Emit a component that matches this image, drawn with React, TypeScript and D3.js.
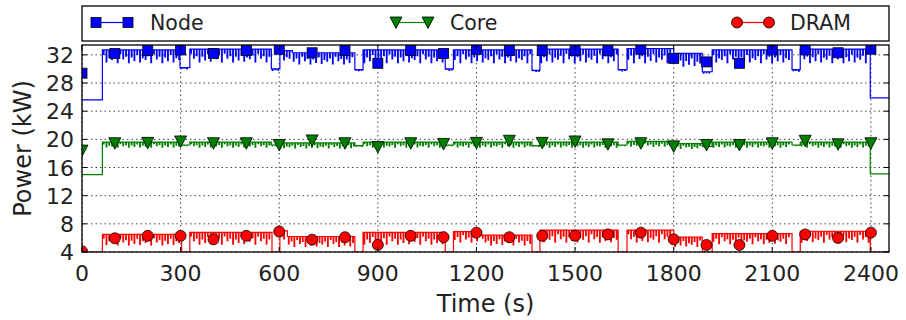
import * as d3 from "d3";

// sample times of the markers (s)
const markerTimes = [0, 100, 200, 300, 400, 500, 600, 700, 800, 900, 1000, 1100, 1200,
  1300, 1400, 1500, 1600, 1700, 1800, 1900, 2000, 2100, 2200, 2300, 2400];

const nodeMarkers = [29.4, 32.2, 32.6, 32.7, 32.2, 32.6, 32.8, 32.3, 32.6, 30.8, 32.6, 32.2, 32.8,
  32.6, 32.6, 32.6, 32.6, 32.8, 31.5, 31.0, 30.8, 32.7, 32.7, 32.3, 32.8];
const coreMarkers = [18.4, 19.45, 19.5, 19.7, 19.45, 19.45, 19.2, 19.85, 19.45, 18.9, 19.45, 19.35, 19.5,
  19.8, 19.5, 19.7, 19.3, 19.45, 19.0, 19.2, 19.2, 19.45, 19.8, 19.3, 19.45];
const dramMarkers = [4.1, 5.95, 6.3, 6.3, 5.8, 6.3, 6.9, 5.75, 6.1, 5.0, 6.3, 6.1, 6.75,
  6.1, 6.3, 6.3, 6.5, 6.75, 5.8, 5.0, 5.0, 6.3, 6.5, 6.0, 6.75];

// trace segments: [start s, end s, top kW, lowest dip kW]
const nodeSegments: [number, number, number, number][] = [
  [0, 62, 25.6, 25.6], [62, 298, 32.7, 30.9], [298, 328, 30.2, 30.0], [328, 576, 32.8, 31.0],
  [576, 602, 30.0, 29.8], [602, 640, 32.6, 31.2], [640, 830, 32.3, 30.7], [830, 855, 29.9, 29.7],
  [855, 1105, 32.7, 30.9], [1105, 1130, 30.0, 29.8], [1130, 1369, 32.7, 30.9], [1369, 1393, 29.8, 29.6],
  [1393, 1631, 32.8, 30.9], [1631, 1658, 29.9, 29.7], [1658, 1800, 32.9, 30.9], [1800, 1887, 32.2, 30.4],
  [1887, 1917, 29.6, 29.4], [1917, 2160, 32.7, 30.9], [2160, 2185, 29.9, 29.7], [2185, 2398, 32.8, 30.9],
  [2398, 2455, 25.9, 25.9],
];
const coreSegments: [number, number, number, number][] = [
  [0, 62, 15.0, 15.0], [62, 298, 19.6, 18.9], [298, 328, 19.2, 19.1], [328, 576, 19.6, 18.9],
  [576, 602, 19.2, 19.1], [602, 830, 19.5, 18.8], [830, 855, 19.1, 19.0], [855, 1105, 19.6, 18.9],
  [1105, 1130, 19.2, 19.1], [1130, 1369, 19.6, 18.9], [1369, 1393, 19.1, 19.0], [1393, 1631, 19.6, 18.9],
  [1631, 1658, 19.2, 19.1], [1658, 1800, 19.7, 19.0], [1800, 1887, 19.4, 18.7], [1887, 1917, 19.0, 18.9],
  [1917, 2160, 19.6, 18.9], [2160, 2185, 19.2, 19.1], [2185, 2398, 19.6, 18.9], [2398, 2455, 15.1, 15.1],
];
const dramSegments: [number, number, number, number][] = [
  [0, 62, 4.0, 4.0], [62, 303, 6.5, 5.0], [303, 328, 4.0, 4.0], [328, 578, 6.8, 5.1],
  [578, 602, 4.0, 4.0], [602, 625, 7.0, 5.8], [625, 830, 6.2, 4.8], [830, 855, 4.0, 4.0],
  [855, 1105, 6.8, 5.1], [1105, 1130, 4.0, 4.0], [1130, 1215, 6.9, 5.4], [1215, 1369, 6.4, 5.0],
  [1369, 1393, 4.0, 4.0], [1393, 1631, 7.1, 5.4], [1631, 1658, 4.0, 4.0], [1658, 1800, 7.1, 5.4],
  [1800, 1887, 6.1, 4.8], [1887, 1917, 4.0, 4.0], [1917, 2160, 6.6, 5.2], [2160, 2185, 4.0, 4.0],
  [2185, 2398, 6.95, 5.4], [2398, 2455, 4.0, 4.0],
];

// relative depth of the short sampling dips inside a segment
const spikeDepth = [1, 0.55, 0.85, 0.35, 0.95, 0.6, 0.75, 0.45, 1, 0.3, 0.7, 0.5];
const SPIKE_STEP = 8.5;

const xTicks = [0, 300, 600, 900, 1200, 1500, 1800, 2100, 2400];
const yTicks = [4, 8, 12, 16, 20, 24, 28, 32];

const FONT = "DejaVu Sans, sans-serif";

function combPoints(segs: [number, number, number, number][]) {
  const pts: [number, number][] = [];
  segs.forEach(([t0, t1, top, low], si) => {
    if (top === low) {
      pts.push([t0, top], [t1, top]);
      return;
    }
    pts.push([t0, top]);
    let k = si * 3;
    for (let t = t0 + 3; t < t1 - 3; t += SPIKE_STEP) {
      const d = top - (top - low) * spikeDepth[k++ % spikeDepth.length];
      pts.push([t, top], [t, d], [t + 2, d], [t + 2, top]);
    }
    pts.push([t1, top]);
  });
  return pts;
}

export default function App() {
  const width = 906;
  const height = 320;
  const left = 82, right = 889, top = 45, bottom = 252;

  const x = d3.scaleLinear().domain([0, 2455]).range([left, right]);
  const y = d3.scaleLinear().domain([4, 33.4]).range([bottom, top]);

  const line = d3.line<[number, number]>()
    .x((d) => x(d[0]))
    .y((d) => y(d[1]));

  const series = [
    { name: "Node", color: "#0000ff", segs: nodeSegments, marks: nodeMarkers, shape: "square" },
    { name: "Core", color: "#008000", segs: coreSegments, marks: coreMarkers, shape: "tri" },
    { name: "DRAM", color: "#ff0000", segs: dramSegments, marks: dramMarkers, shape: "circle" },
  ];

  const marker = (shape: string, cx: number, cy: number, color: string, key: string | number) => {
    if (shape === "square")
      return <rect key={key} x={cx - 5} y={cy - 5} width={10} height={10} fill={color} stroke="#000" strokeWidth={0.8} />;
    if (shape === "tri")
      return <path key={key} d={`M${cx - 6},${cy - 5.5}L${cx + 6},${cy - 5.5}L${cx},${cy + 6}Z`} fill={color} stroke="#000" strokeWidth={0.8} />;
    return <circle key={key} cx={cx} cy={cy} r={5.5} fill={color} stroke="#000" strokeWidth={0.8} />;
  };

  const legendItems = [
    { s: series[0], m1: 96, m2: 128, tx: 150 },
    { s: series[1], m1: 396, m2: 428, tx: 450 },
    { s: series[2], m1: 737, m2: 769, tx: 790 },
  ];

  return (
    <svg width={width} height={height} style={{ display: "block", position: "absolute", left: 0, top: 0 }}>
      <rect width={width} height={height} fill="#fff" />
      <defs>
        <clipPath id="plot">
          <rect x={left} y={top} width={right - left} height={bottom - top} />
        </clipPath>
      </defs>

      {/* grid */}
      <g stroke="#444" strokeWidth={1} strokeDasharray="1.5,3">
        {xTicks.map((t) => <line key={"gx" + t} x1={x(t)} x2={x(t)} y1={top} y2={bottom} />)}
        {yTicks.map((t) => <line key={"gy" + t} x1={left} x2={right} y1={y(t)} y2={y(t)} />)}
      </g>

      <g clipPath="url(#plot)">
        {series.map((s) => (
          <path key={s.name} d={line(combPoints(s.segs)) ?? ""} fill="none" stroke={s.color} strokeWidth={1.2} />
        ))}
        {series.map((s) => (
          <g key={s.name + "m"}>
            {s.marks.map((v, i) => marker(s.shape, x(markerTimes[i]), y(v), s.color, i))}
          </g>
        ))}
      </g>

      {/* frame & ticks */}
      <rect x={left} y={top} width={right - left} height={bottom - top} fill="none" stroke="#000" strokeWidth={1.3} />
      <g stroke="#000" strokeWidth={1}>
        {xTicks.map((t) => (
          <g key={"tx" + t}>
            <line x1={x(t)} x2={x(t)} y1={bottom} y2={bottom - 5} />
            <line x1={x(t)} x2={x(t)} y1={top} y2={top + 5} />
          </g>
        ))}
        {yTicks.map((t) => (
          <g key={"ty" + t}>
            <line x1={left} x2={left + 5} y1={y(t)} y2={y(t)} />
            <line x1={right} x2={right - 5} y1={y(t)} y2={y(t)} />
          </g>
        ))}
      </g>

      <g fontFamily={FONT} fill="#222">
        {xTicks.map((t) => (
          <text key={"lx" + t} x={x(t)} y={281} fontSize={22} textAnchor="middle">{t}</text>
        ))}
        {yTicks.map((t) => (
          <text key={"ly" + t} x={left - 8} y={y(t) + 8} fontSize={22} textAnchor="end">{t}</text>
        ))}
        <text x={(left + right) / 2} y={312} fontSize={24} textAnchor="middle">Time (s)</text>
        <text transform={`translate(31,${(top + bottom) / 2}) rotate(-90)`} fontSize={24} textAnchor="middle">Power (kW)</text>
      </g>

      {/* legend */}
      <rect x={left} y={6} width={right - left} height={35} fill="#fff" stroke="#000" strokeWidth={1.3} />
      {legendItems.map(({ s, m1, m2, tx }) => (
        <g key={"lg" + s.name}>
          <line x1={m1} x2={m2} y1={22.5} y2={22.5} stroke={s.color} strokeWidth={1.2} />
          {marker(s.shape, m1, 22.5, s.color, "a")}
          {marker(s.shape, m2, 22.5, s.color, "b")}
          <text x={tx} y={30} fontFamily={FONT} fontSize={20.5} fill="#222">{s.name}</text>
        </g>
      ))}
    </svg>
  );
}
